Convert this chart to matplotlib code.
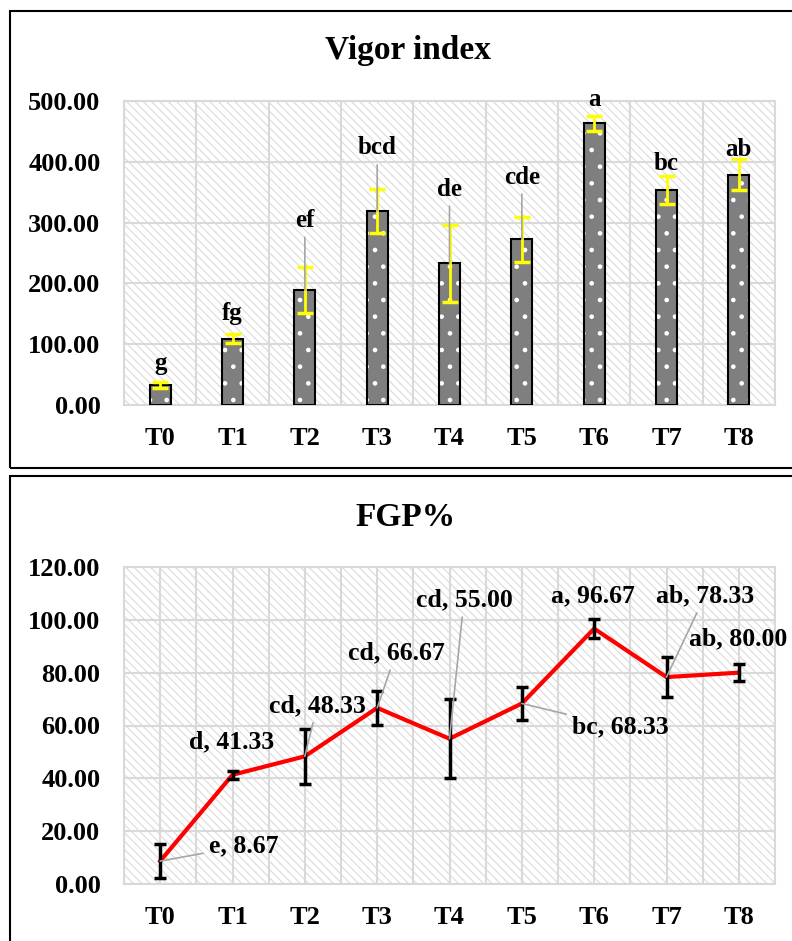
import numpy as np
import matplotlib
matplotlib.use('Agg')
import matplotlib.pyplot as plt
from matplotlib.patches import Rectangle

plt.rcParams['font.family'] = ['Liberation Serif', 'DejaVu Serif']
plt.rcParams['font.weight'] = 'bold'
plt.rcParams['hatch.linewidth'] = 0.9

# ---- data ----
treatments = ['T0', 'T1', 'T2', 'T3', 'T4', 'T5', 'T6', 'T7', 'T8']

vigor = [33, 109, 189, 319, 233, 273, 463, 354, 379]
vigor_err = [5, 7, 38, 36, 63, 37, 12, 23, 25]
vigor_letters = ['g', 'fg', 'ef', 'bcd', 'de', 'cde', 'a', 'bc', 'ab']

fgp = [8.67, 41.33, 48.33, 66.67, 55.00, 68.33, 96.67, 78.33, 80.00]
fgp_err = [6.3, 1.6, 10.4, 6.3, 15.0, 6.3, 3.6, 7.6, 3.3]
fgp_letters = ['e', 'd', 'cd', 'cd', 'cd', 'bc', 'a', 'ab', 'ab']

# label placement (layout only)
vigor_lab_y = [69, 151, 304, 423, 355, 375, 503, 398, 421]
vigor_leader = [False, False, True, True, True, True, False, False, False]
fgp_lab_xy = [(1.15, 14.4), (0.99, 53.8), (2.17, 67.4), (3.26, 87.4), (4.2, 107.5),
              (6.36, 59.4), (5.98, 109.0), (7.53, 109.0), (7.99, 92.7)]
fgp_leader = [True, False, True, True, True, True, False, True, False]

W, H = 792, 941
fig = plt.figure(figsize=(W / 100, H / 100), dpi=100)

def px_axes(l, t, r, b):
    return fig.add_axes([l / W, 1 - b / H, (r - l) / W, (b - t) / H])

def frame(l, t, r, b):
    fig.patches.append(Rectangle((l / W, 1 - b / H), (r - l) / W, (b - t) / H,
                                 transform=fig.transFigure, fill=False,
                                 edgecolor='black', linewidth=1.5))

def style_axes(ax):
    ax.add_patch(Rectangle((0, 0), 1, 1, transform=ax.transAxes, facecolor='white',
                           edgecolor='#dedede', hatch='\\\\\\\\', linewidth=0, zorder=0))
    for s in ax.spines.values():
        s.set_color('#d9d9d9')
        s.set_linewidth(1.5)
    ax.tick_params(length=0, labelsize=19)
    ax.tick_params(axis='y', pad=17)
    ax.tick_params(axis='x', pad=16)
    ax.yaxis.set_major_formatter(matplotlib.ticker.FormatStrFormatter('%.2f'))
    for lab in ax.get_xticklabels() + ax.get_yticklabels():
        lab.set_fontweight('bold')

x = np.arange(len(treatments))
leader_kw = dict(arrowstyle='-', color='#a6a6a6', lw=1.2, shrinkA=2, shrinkB=0)

# ---- top chart: Vigor index ----
frame(10, 11, 806, 468)
fig.text(408 / W, 1 - 50 / H, 'Vigor index', ha='center', va='center', fontsize=24, fontweight='bold')
ax1 = px_axes(124, 101, 775, 405)
ax1.set_xlim(-0.5, 8.5)
ax1.set_ylim(0, 500)
ax1.set_yticks(np.arange(0, 501, 100))
ax1.set_xticks(x)
ax1.set_xticklabels(treatments)
for v in np.arange(0, 501, 100):
    ax1.axhline(v, color='#d9d9d9', lw=1.5, zorder=1)
for v in np.arange(-0.5, 9, 1):
    ax1.axvline(v, color='#d9d9d9', lw=1.5, zorder=1)
style_axes(ax1)
ax1.bar(x, vigor, width=0.29, color='#7f7f7f', edgecolor='white', hatch='.', linewidth=0, zorder=2)
ax1.bar(x, vigor, width=0.29, fill=False, edgecolor='black', linewidth=1.5, zorder=3)
ax1.errorbar(x, vigor, yerr=vigor_err, fmt='none', ecolor='#ffff00', elinewidth=2,
             capsize=5.5, capthick=2.5, zorder=4)
for i in range(len(x)):
    if vigor_leader[i]:
        ax1.annotate(vigor_letters[i], xy=(x[i], vigor[i]), xytext=(x[i], vigor_lab_y[i]),
                     ha='center', va='center', fontsize=18, fontweight='bold',
                     arrowprops=leader_kw, zorder=5)
    else:
        ax1.text(x[i], vigor_lab_y[i], vigor_letters[i], ha='center', va='center',
                 fontsize=18, fontweight='bold', zorder=5)

# ---- bottom chart: FGP% ----
frame(10, 476, 806, 960)
fig.text(406 / W, 1 - 517 / H, 'FGP%', ha='center', va='center', fontsize=24, fontweight='bold')
ax2 = px_axes(124, 567, 775, 884)
ax2.set_xlim(-0.5, 8.5)
ax2.set_ylim(0, 120)
ax2.set_yticks(np.arange(0, 121, 20))
ax2.set_xticks(x)
ax2.set_xticklabels(treatments)
for v in np.arange(0, 121, 20):
    ax2.axhline(v, color='#d9d9d9', lw=1.5, zorder=1)
for v in np.arange(-0.5, 8.6, 0.5):
    ax2.axvline(v, color='#d9d9d9', lw=1.5, zorder=1)
style_axes(ax2)
ax2.plot(x, fgp, color='#ff0000', lw=3, zorder=3)
ax2.errorbar(x, fgp, yerr=fgp_err, fmt='none', ecolor='black', elinewidth=2.5,
             capsize=4.3, capthick=2.5, zorder=4)
for i in range(len(x)):
    lab = '%s, %.2f' % (fgp_letters[i], fgp[i])
    tx, ty = fgp_lab_xy[i]
    if fgp_leader[i]:
        ax2.annotate(lab, xy=(x[i], fgp[i]), xytext=(tx, ty), ha='center', va='center',
                     fontsize=18.5, fontweight='bold', arrowprops=leader_kw, zorder=5)
    else:
        ax2.text(tx, ty, lab, ha='center', va='center', fontsize=18.5, fontweight='bold', zorder=5)

fig.savefig('out.png', dpi=100)
